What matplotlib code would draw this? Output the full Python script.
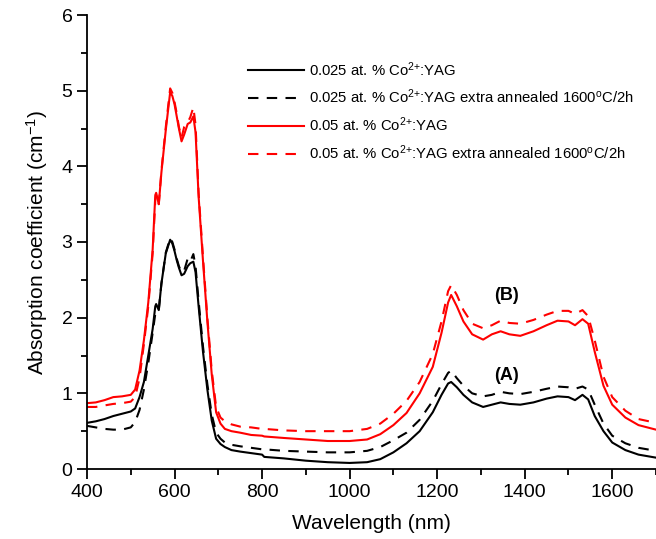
import matplotlib
matplotlib.use("Agg")
import matplotlib.pyplot as plt
from matplotlib.ticker import MultipleLocator

plt.rcParams['font.family'] = ['Liberation Sans', 'DejaVu Sans']
plt.rcParams['mathtext.fontset'] = 'custom'
plt.rcParams['mathtext.rm'] = 'Liberation Sans'
plt.rcParams['mathtext.it'] = 'Liberation Sans:italic'
plt.rcParams['mathtext.bf'] = 'Liberation Sans:bold'

wavelength = [400, 420, 440, 460, 480, 500, 510, 520, 530, 540, 550, 556, 558, 564, 570,
              580, 590, 595, 600, 605, 610, 616, 622, 630, 636, 643, 648, 655, 665, 675,
              685, 695, 705, 715, 730, 750, 775, 800, 805, 850, 900, 950, 1000, 1040, 1070,
              1100, 1130, 1160, 1190, 1210, 1225, 1232, 1245, 1260, 1280, 1305, 1325, 1345,
              1365, 1390, 1420, 1450, 1475, 1500, 1515, 1532, 1545, 1560, 1580, 1600, 1630,
              1660, 1700]

a_solid = [0.61, 0.63, 0.66, 0.70, 0.73, 0.76, 0.80, 0.95, 1.15, 1.50, 1.85, 2.15, 2.18, 2.10, 2.45,
           2.85, 3.03, 2.98, 2.88, 2.76, 2.66, 2.56, 2.58, 2.68, 2.72, 2.74, 2.60, 2.15, 1.55, 1.05,
           0.64, 0.40, 0.33, 0.29, 0.25, 0.23, 0.21, 0.19, 0.16, 0.14, 0.11, 0.09, 0.08, 0.09, 0.13,
           0.22, 0.34, 0.50, 0.75, 0.98, 1.13, 1.15, 1.08, 0.98, 0.88, 0.82, 0.85, 0.88,
           0.86, 0.85, 0.88, 0.93, 0.96, 0.95, 0.91, 0.98, 0.92, 0.70, 0.50, 0.35, 0.25,
           0.19, 0.15]

a_dashed = [0.57, 0.55, 0.53, 0.52, 0.52, 0.55, 0.62, 0.78, 1.05, 1.40, 1.80, 2.05, 2.10, 2.10, 2.45,
            2.86, 3.05, 3.00, 2.90, 2.78, 2.68, 2.60, 2.62, 2.78, 2.74, 2.84, 2.68, 2.22, 1.62, 1.12,
            0.72, 0.48, 0.40, 0.35, 0.32, 0.30, 0.28, 0.26, 0.26, 0.24, 0.23, 0.22, 0.22, 0.24, 0.29,
            0.38, 0.48, 0.65, 0.90, 1.12, 1.27, 1.30, 1.20, 1.10, 1.00, 0.96, 0.98, 1.02,
            1.00, 0.99, 1.02, 1.06, 1.09, 1.08, 1.06, 1.09, 1.05, 0.85, 0.60, 0.44, 0.34,
            0.28, 0.24]

b_solid = [0.87, 0.88, 0.91, 0.95, 0.96, 0.98, 1.05, 1.30, 1.70, 2.20, 2.90, 3.62, 3.65, 3.50, 3.92,
           4.48, 4.98, 4.93, 4.82, 4.66, 4.50, 4.33, 4.42, 4.56, 4.58, 4.66, 4.45, 3.60, 2.75, 1.95,
           1.25, 0.75, 0.60, 0.53, 0.50, 0.48, 0.45, 0.44, 0.43, 0.41, 0.39, 0.37, 0.37, 0.39, 0.46,
           0.58, 0.74, 1.00, 1.35, 1.80, 2.20, 2.30, 2.15, 1.95, 1.78, 1.71, 1.78, 1.82,
           1.78, 1.76, 1.82, 1.90, 1.96, 1.95, 1.90, 1.98, 1.92, 1.55, 1.10, 0.85, 0.68,
           0.58, 0.52]

b_dashed = [0.82, 0.82, 0.84, 0.86, 0.87, 0.89, 0.95, 1.20, 1.65, 2.15, 2.85, 3.55, 3.62, 3.50, 3.94,
            4.52, 5.03, 4.97, 4.85, 4.70, 4.52, 4.38, 4.52, 4.58, 4.65, 4.78, 4.55, 3.65, 2.80, 2.00,
            1.30, 0.82, 0.68, 0.63, 0.59, 0.56, 0.55, 0.53, 0.53, 0.51, 0.50, 0.50, 0.50, 0.53, 0.60,
            0.73, 0.90, 1.15, 1.52, 1.95, 2.35, 2.43, 2.30, 2.10, 1.92, 1.86, 1.90, 1.96,
            1.93, 1.92, 1.97, 2.04, 2.09, 2.09, 2.05, 2.10, 2.02, 1.70, 1.22, 0.95, 0.77,
            0.66, 0.61]

labels = [r"0.025 at. % Co$^{2{+}}$:YAG",
          r"0.025 at. % Co$^{2{+}}$:YAG extra annealed 1600$^{\rm o}$C/2h",
          r"0.05 at. % Co$^{2{+}}$:YAG",
          r"0.05 at. % Co$^{2{+}}$:YAG extra annealed 1600$^{\rm o}$C/2h"]

fig = plt.figure(figsize=(6.56, 5.39), dpi=100)
ax = fig.add_axes([87/656, 70/539, 569/656, 454/539])

lw = 1.5
ax.plot(wavelength, a_solid, color='black', lw=lw, label=labels[0])
ax.plot(wavelength, a_dashed, color='black', lw=lw, ls=(0, (5, 4)), label=labels[1])
ax.plot(wavelength, b_solid, color='#ff0000', lw=lw, label=labels[2])
ax.plot(wavelength, b_dashed, color='#ff0000', lw=lw, ls=(0, (5, 4)), label=labels[3])

ax.set_xlim(400, 1700)
ax.set_ylim(0, 6)
ax.xaxis.set_major_locator(MultipleLocator(200))
ax.xaxis.set_minor_locator(MultipleLocator(100))
ax.yaxis.set_major_locator(MultipleLocator(1))
ax.yaxis.set_minor_locator(MultipleLocator(0.5))

for s in ['top', 'right']:
    ax.spines[s].set_visible(False)
for s in ['left', 'bottom']:
    ax.spines[s].set_linewidth(1.3)
ax.tick_params(which='major', direction='out', length=7, width=1.3, labelsize=14)
ax.tick_params(which='minor', direction='out', length=4, width=1.3)

ax.set_xlabel("Wavelength (nm)", fontsize=15, labelpad=10)
ax.set_ylabel(r"Absorption coefficient (cm$^{-1}$)", fontsize=15, labelpad=8)

ax.text(1358, 1.24, "(A)", fontsize=13, fontweight='bold', ha='center', va='center')
ax.text(1358, 2.29, "(B)", fontsize=13, fontweight='bold', ha='center', va='center')

leg = fig.legend(loc='upper left', bbox_to_anchor=(248/656, 1 - 60/539),
                 frameon=False, fontsize=10.7, handlelength=3.75, handletextpad=0.35,
                 labelspacing=0.62, borderpad=0, borderaxespad=0)

fig.savefig("out.png", dpi=100)
